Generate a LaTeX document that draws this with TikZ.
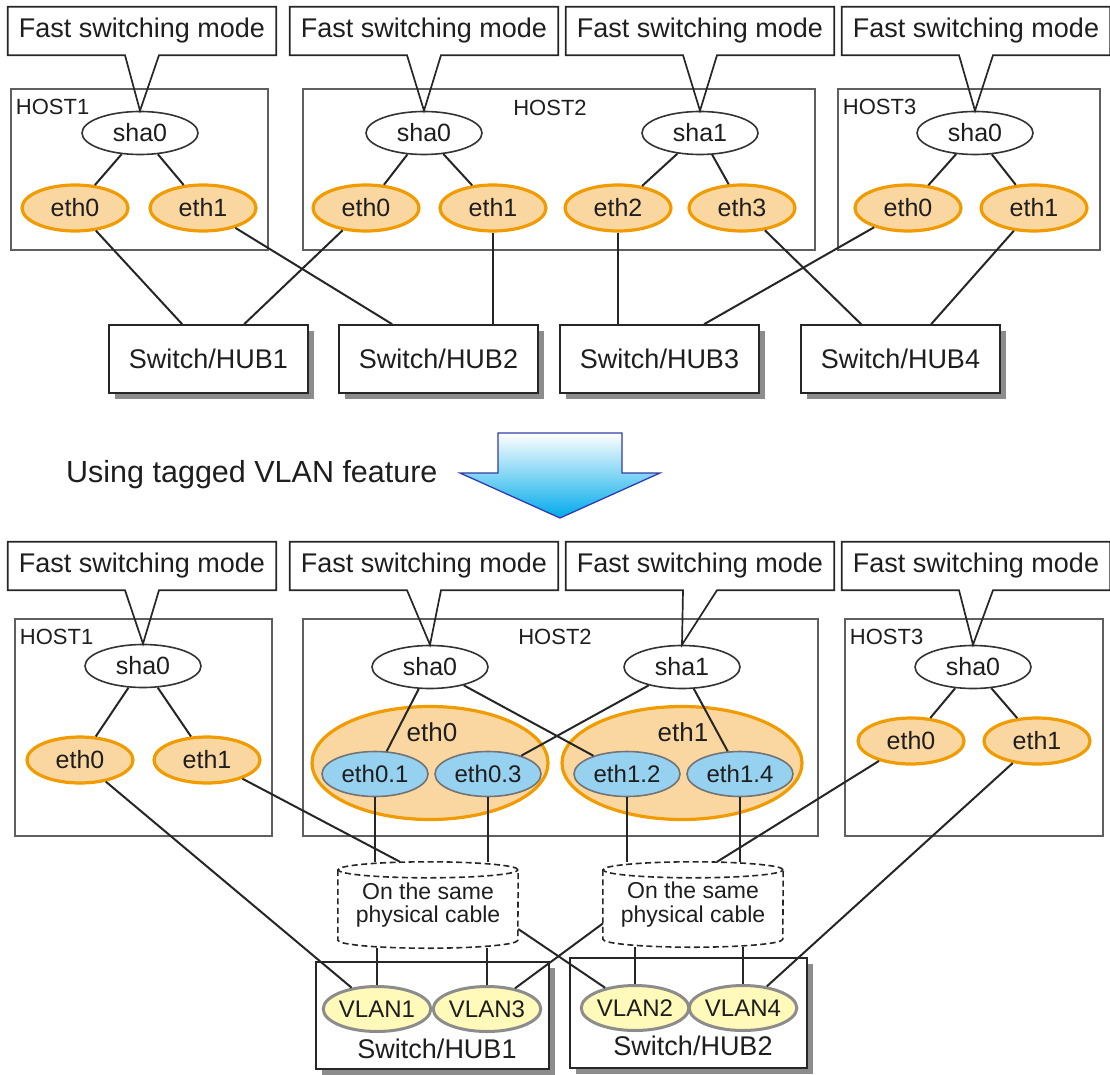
\documentclass[tikz,border=0pt]{standalone}
\usepackage{fontspec}
\setmainfont{Liberation Sans}
\usetikzlibrary{shapes.geometric,shadows,calc}
\definecolor{ofill}{RGB}{250,215,160}
\definecolor{ocol}{RGB}{240,155,0}
\definecolor{bfill}{RGB}{150,210,240}
\definecolor{yfill}{RGB}{255,250,185}
\definecolor{vcol}{RGB}{140,140,140}
\definecolor{hostc}{RGB}{95,95,95}
\definecolor{txt}{RGB}{30,30,30}
\definecolor{acol}{RGB}{0,170,235}
\definecolor{adraw}{RGB}{50,60,170}
\newcommand\fsz[1]{\fontsize{#1pt}{#1pt}\selectfont}
\newcommand\mycallout[3]{%
  \node[cbox] (#1) at (#2) {Fast switching mode};
  \draw[cline] ($(#1.south)+(-17,0)$) -- (#1.south west) -- (#1.north west) -- (#1.north east) -- (#1.south east) -- ($(#1.south)+(17,0)$) -- (#3.north) -- cycle;
}
\tikzset{
  cbox/.style={draw=none, minimum width=268pt, minimum height=48pt, inner sep=0, font=\fsz{27}, text=txt},
  cline/.style={draw=black!85, line width=1.7pt, line join=miter},
  hostbox/.style={draw=hostc, line width=2.5pt, inner sep=0},
  hostlbl/.style={font=\fsz{22}, inner sep=0, text=txt},
  sha/.style={ellipse, draw=black!80, line width=1.6pt, fill=white, minimum width=116pt, minimum height=43pt, inner sep=0, font=\fsz{25}, text=txt},
  eth/.style={ellipse, draw=ocol, line width=3.2pt, fill=ofill, minimum width=106pt, minimum height=46pt, inner sep=0, font=\fsz{25}, text=txt},
  veth/.style={ellipse, draw=black!55, line width=1.6pt, fill=bfill, minimum width=106pt, minimum height=45pt, inner sep=0, font=\fsz{24}, text=txt},
  bigeth/.style={ellipse, draw=ocol, line width=3.2pt, fill=ofill, minimum width=236pt, minimum height=113pt, inner sep=0},
  biglbl/.style={font=\fsz{26}, inner sep=0, text=txt},
  vlan/.style={ellipse, draw=vcol, line width=3pt, fill=yfill, minimum width=102pt, minimum height=45pt, inner sep=0, font=\fsz{24}, text=txt},
  hub/.style={draw=black!85, line width=1.7pt, fill=white, general shadow={fill=black!45, shadow xshift=6pt, shadow yshift=-6pt}, font=\fsz{27}, inner sep=0, text=txt},
  hublbl/.style={font=\fsz{27}, inner sep=0, text=txt},
  conn/.style={draw=black!85, line width=2pt},
  cylbox/.style={draw=none, minimum width=180pt, minimum height=86pt, inner sep=0, align=center, font=\fontsize{23pt}{23.5pt}\selectfont, text=txt},
  cyl/.style={draw=black!85, line width=1.6pt, dash pattern=on 6pt off 3.5pt},
}
\begin{document}
\begin{tikzpicture}[x=1pt,y=-1pt]
\useasboundingbox (0,0) rectangle (1110,1075);

% ================= TOP =================
\node[hostbox, minimum width=257pt, minimum height=161pt] (th1) at (139.5,169.5) {};
\node[hostbox, minimum width=512pt, minimum height=161pt] (th2) at (559,169.5) {};
\node[hostbox, minimum width=262pt, minimum height=161pt] (th3) at (969,169.5) {};
\node[hostlbl, anchor=west] (th1l) at ($(th1.north west)+(6,19)$) {HOST1};
\node[hostlbl] (th2l) at (550,108) {HOST2};
\node[hostlbl, anchor=west] (th3l) at ($(th3.north west)+(6,19)$) {HOST3};

\node[sha] (t1s) at (140,133) {sha0};
\node[eth] (t1e0) at (75,208) {eth0};
\node[eth] (t1e1) at (203,208) {eth1};
\node[sha] (t2s0) at (424,133) {sha0};
\node[sha] (t2s1) at (700,133) {sha1};
\node[eth] (t2e0) at (366,208) {eth0};
\node[eth] (t2e1) at (493,208) {eth1};
\node[eth] (t2e2) at (618,208) {eth2};
\node[eth] (t2e3) at (742,208) {eth3};
\node[sha] (t3s) at (975,133) {sha0};
\node[eth] (t3e0) at (908,208) {eth0};
\node[eth] (t3e1) at (1034,208) {eth1};

\mycallout{tc1}{142,31}{t1s}
\mycallout{tc2}{424,31}{t2s0}
\mycallout{tc3}{700,31}{t2s1}
\mycallout{tc4}{976,31}{t3s}

\node[hub, minimum width=199pt, minimum height=68pt] (hub1) at (208.5,359) {Switch/HUB1};
\node[hub, minimum width=199pt, minimum height=68pt] (hub2) at (438.5,359) {Switch/HUB2};
\node[hub, minimum width=199pt, minimum height=68pt] (hub3) at (659.5,359) {Switch/HUB3};
\node[hub, minimum width=199pt, minimum height=68pt] (hub4) at (900.5,359) {Switch/HUB4};

\draw[conn] (t1s) -- (t1e0);
\draw[conn] (t1s) -- (t1e1);
\draw[conn] (t2s0) -- (t2e0);
\draw[conn] (t2s0) -- (t2e1);
\draw[conn] (t2s1) -- (t2e2);
\draw[conn] (t2s1) -- (t2e3);
\draw[conn] (t3s) -- (t3e0);
\draw[conn] (t3s) -- (t3e1);

\draw[conn] (t1e0) -- ($(hub1.north west)+(74,0)$);
\draw[conn] (t2e0) -- ($(hub1.north west)+(136,0)$);
\draw[conn] (t1e1) -- ($(hub2.north west)+(54,0)$);
\draw[conn] (t2e1.south) -- (t2e1.south |- hub2.north);
\draw[conn] (t2e2.south) -- (t2e2.south |- hub3.north);
\draw[conn] (t3e0) -- ($(hub3.north west)+(145,0)$);
\draw[conn] (t2e3) -- ($(hub4.north west)+(61,0)$);
\draw[conn] (t3e1) -- ($(hub4.north west)+(131,0)$);

% ================= MIDDLE =================
\node[anchor=west, font=\fsz{30.5}, inner sep=0, text=txt] (usevlan) at (66,475) {Using tagged VLAN feature};
\shadedraw[top color=white, bottom color=acol, draw=adraw, line width=1.3pt, line join=miter]
  (498,433) -- (622,433) -- (622,473) -- (660,473) -- (560,518) -- (460,473) -- (498,473) -- cycle;

% ================= BOTTOM =================
\node[hostbox, minimum width=257pt, minimum height=217pt] (bh1) at (143.5,727.5) {};
\node[hostbox, minimum width=515pt, minimum height=217pt] (bh2) at (560.5,727.5) {};
\node[hostbox, minimum width=258pt, minimum height=217pt] (bh3) at (974,727.5) {};
\node[hostlbl, anchor=west] (bh1l) at ($(bh1.north west)+(6,19)$) {HOST1};
\node[hostlbl] (bh2l) at (555,637) {HOST2};
\node[hostlbl, anchor=west] (bh3l) at ($(bh3.north west)+(6,19)$) {HOST3};

\node[sha] (b1s) at (143,666) {sha0};
\node[eth] (b1e0) at (80,760) {eth0};
\node[eth] (b1e1) at (207,760) {eth1};

\node[sha] (b2s0) at (430,667) {sha0};
\node[sha] (b2s1) at (682,667) {sha1};
\node[bigeth] (be0) at (430,763) {};
\node[bigeth, minimum width=240pt] (be1) at (682,763) {};
\node[biglbl] (be0l) at (432,732) {eth0};
\node[biglbl] (be1l) at (683,732) {eth1};
\node[veth] (e01) at (375,774) {eth0.1};
\node[veth] (e03) at (488,774) {eth0.3};
\node[veth] (e12) at (627,774) {eth1.2};
\node[veth] (e14) at (740,774) {eth1.4};

\node[sha] (b3s) at (973,667) {sha0};
\node[eth] (b3e0) at (911,741) {eth0};
\node[eth] (b3e1) at (1037,741) {eth1};

\mycallout{bc1}{142,566}{b1s}
\mycallout{bc2}{424,566}{b2s0}
\mycallout{bc3}{700,566}{b2s1}
\mycallout{bc4}{976,566}{b3s}

\draw[conn] (b1s) -- (b1e0);
\draw[conn] (b1s) -- (b1e1);
\draw[conn] (b3s) -- (b3e0);
\draw[conn] (b3s) -- (b3e1);
\draw[conn] (b2s0) -- (e01);
\draw[conn] (b2s0) -- (e12);
\draw[conn] (b2s1) -- (e03);
\draw[conn] (b2s1) -- (e14);

% cylinders
\node[cylbox] (c1) at (428,905) {On the same\\physical cable};
\node[cylbox, minimum height=85pt] (c2) at (693,904.5) {On the same\\physical cable};
\draw[cyl] ($(c1.north)+(0,8)$) ellipse[x radius=90pt, y radius=8pt];
\draw[cyl] ($(c1.north west)+(0,8)$) -- ($(c1.south west)+(0,-8)$) arc[start angle=180, end angle=360, x radius=90pt, y radius=8pt] -- ($(c1.north east)+(0,8)$);
\draw[cyl] ($(c2.north)+(0,8)$) ellipse[x radius=90pt, y radius=8pt];
\draw[cyl] ($(c2.north west)+(0,8)$) -- ($(c2.south west)+(0,-8)$) arc[start angle=180, end angle=360, x radius=90pt, y radius=8pt] -- ($(c2.north east)+(0,8)$);

% bottom switches
\node[hub, minimum width=233pt, minimum height=107pt] (sw1) at (432.5,1015.5) {};
\node[hub, minimum width=237pt, minimum height=110pt] (sw2) at (688.5,1013) {};
\node[hublbl] (sw1l) at (437,1049) {Switch/HUB1};
\node[hublbl] (sw2l) at (693,1046) {Switch/HUB2};
\node[vlan] (v1) at (377,1009) {VLAN1};
\node[vlan] (v3) at (487,1009) {VLAN3};
\node[vlan] (v2) at (635,1008) {VLAN2};
\node[vlan] (v4) at (743,1008) {VLAN4};

\draw[conn] (e01.south) -- (e01.south |- c1.north);
\draw[conn] (e03.south) -- (e03.south |- c1.north);
\draw[conn] (e12.south) -- (e12.south |- c2.north);
\draw[conn] (e14.south) -- (e14.south |- c2.north);
\draw[conn] (b1e1) -- ($(c1.north)+(-28,0)$);
\draw[conn] (b3e0) -- ($(c2.north)+(24,0)$);
\draw[conn] (v1.north |- c1.south) -- (v1.north);
\draw[conn] (v3.north |- c1.south) -- (v3.north);
\draw[conn] (v2.north |- c2.south) -- (v2.north);
\draw[conn] (v4.north |- c2.south) -- (v4.north);
\draw[conn] (b1e0) -- (v1);
\draw[conn] ($(c1.east)+(0,24)$) -- (v2);
\draw[conn] ($(c2.west)+(0,19)$) -- (v3);
\draw[conn] (b3e1) -- (v4);
\end{tikzpicture}
\end{document}
